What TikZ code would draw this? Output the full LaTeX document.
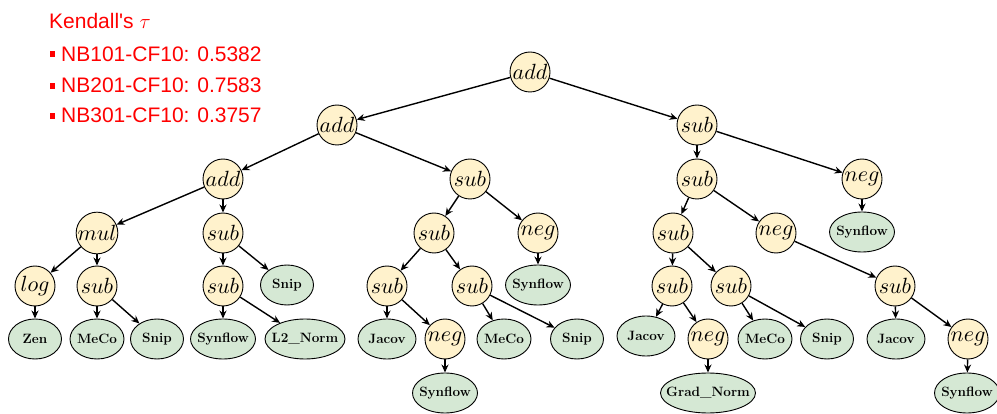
\documentclass[tikz,border=0pt]{standalone}
\usepackage{graphicx}
\usepackage{fontspec}
\newfontfamily\arialfont{Liberation Sans}
\usetikzlibrary{shapes.geometric,arrows.meta}
\definecolor{opfill}{HTML}{FFF2CC}
\definecolor{leaffill}{HTML}{D5E8D4}
\newcommand{\lt}[1]{\makebox[0pt][c]{#1}}
\newcommand{\opt}[1]{\scalebox{2.2}{$#1$}}
\begin{document}
\begin{tikzpicture}[x=1pt,y=-1pt,
 op/.style={circle,draw=black,fill=opfill,line width=0.9pt,minimum size=40pt,inner sep=0pt},
 leaf/.style={ellipse,draw=black,fill=leaffill,line width=0.9pt,minimum width=53pt,minimum height=40pt,inner sep=0pt,font=\fontsize{13.5}{16}\selectfont\bfseries},
 arr/.style={-{Stealth[length=8pt,width=7pt]},line width=1.4pt},
 ktext/.style={font=\arialfont\fontsize{21}{25}\selectfont,text=red,anchor=base west,inner sep=0pt},
 kbullet/.style={fill=red,draw=none}]
\useasboundingbox (0,0) rectangle (997,414);

% legend
\node[ktext] (kt) at (49,29) {Kendall's $\tau$};
\fill[kbullet] (50,51) rectangle (55,57);
\node[ktext] (k1) at (61,62) {NB101-CF10: 0.5382};
\fill[kbullet] (50,83) rectangle (55,89);
\node[ktext] (k2) at (61,93) {NB201-CF10: 0.7583};
\fill[kbullet] (50,113) rectangle (55,119);
\node[ktext] (k3) at (61,123) {NB301-CF10: 0.3757};

% operator nodes
\node[op] (n0) at (530,72) {\opt{add}};
\node[op] (n1) at (337,125) {\opt{add}};
\node[op] (n2) at (697,125) {\opt{sub}};
\node[op] (n3) at (223,179) {\opt{add}};
\node[op] (n4) at (470,179) {\opt{sub}};
\node[op] (n5) at (697,179) {\opt{sub}};
\node[op] (n6) at (862,179) {\opt{neg}};
\node[op] (n7) at (97,233) {\opt{mul}};
\node[op] (n8) at (223,233) {\opt{sub}};
\node[op] (n9) at (434,233) {\opt{sub}};
\node[op] (n10) at (538,233) {\opt{neg}};
\node[op] (n11) at (673,233) {\opt{sub}};
\node[op] (n12) at (776,233) {\opt{neg}};
\node[op] (n13) at (35,286) {\opt{log}};
\node[op] (n14) at (97,286) {\opt{sub}};
\node[op] (n15) at (223,286) {\opt{sub}};
\node[op] (n16) at (387,286) {\opt{sub}};
\node[op] (n17) at (472,286) {\opt{sub}};
\node[op] (n18) at (672,286) {\opt{sub}};
\node[op] (n19) at (731,286) {\opt{sub}};
\node[op] (n20) at (895,286) {\opt{sub}};
\node[op] (n21) at (445,339) {\opt{neg}};
\node[op] (n22) at (708,339) {\opt{neg}};
\node[op] (n23) at (968,339) {\opt{neg}};

% leaves
\node[leaf,minimum width=65pt] (l1) at (862,232) {\lt{Synflow}};
\node[leaf] (l2) at (287,285) {\lt{Snip}};
\node[leaf,minimum width=65pt] (l3) at (538,285) {\lt{Synflow}};
\node[leaf] (l4) at (35,339) {\lt{Zen}};
\node[leaf,minimum width=54pt] (l5) at (97,339) {\lt{MeCo}};
\node[leaf] (l6) at (157,339) {\lt{Snip}};
\node[leaf,minimum width=65pt] (l7) at (223,339) {\lt{Synflow}};
\node[leaf,minimum width=80pt] (l8) at (305,339) {\lt{L2\_Norm}};
\node[leaf,minimum width=58pt] (l9) at (387,339) {\lt{Jacov}};
\node[leaf,minimum width=54pt] (l10) at (504,339) {\lt{MeCo}};
\node[leaf] (l11) at (577,339) {\lt{Snip}};
\node[leaf,minimum width=58pt] (l12) at (646,336) {\lt{Jacov}};
\node[leaf,minimum width=54pt] (l13) at (765,339) {\lt{MeCo}};
\node[leaf] (l14) at (827,339) {\lt{Snip}};
\node[leaf,minimum width=58pt] (l15) at (896,339) {\lt{Jacov}};
\node[leaf,minimum width=65pt] (l16) at (445,393) {\lt{Synflow}};
\node[leaf,minimum width=95pt] (l17) at (708,393) {\lt{Grad\_Norm}};
\node[leaf,minimum width=65pt] (l18) at (967,393) {\lt{Synflow}};

% edges
\draw[arr] (n0) -- (n1);
\draw[arr] (n0) -- (n2);
\draw[arr] (n1) -- (n3);
\draw[arr] (n1) -- (n4);
\draw[arr] (n2) -- (n5);
\draw[arr] (n2) -- (n6);
\draw[arr] (n3) -- (n7);
\draw[arr] (n3) -- (n8);
\draw[arr] (n4) -- (n9);
\draw[arr] (n4) -- (n10);
\draw[arr] (n5) -- (n11);
\draw[arr] (n5) -- (n12);
\draw[arr] (n6) -- (l1);
\draw[arr] (n7) -- (n13);
\draw[arr] (n7) -- (n14);
\draw[arr] (n8) -- (n15);
\draw[arr] (n8) -- (l2);
\draw[arr] (n9) -- (n16);
\draw[arr] (n9) -- (n17);
\draw[arr] (n10) -- (l3);
\draw[arr] (n11) -- (n18);
\draw[arr] (n11) -- (n19);
\draw[arr] (n12) -- (n20);
\draw[arr] (n13) -- (l4);
\draw[arr] (n14) -- (l5);
\draw[arr] (n14) -- (l6);
\draw[arr] (n15) -- (l7);
\draw[arr] (n15) -- (l8);
\draw[arr] (n16) -- (l9);
\draw[arr] (n16) -- (n21);
\draw[arr] (n17) -- (l10);
\draw[arr] (n17) -- (l11);
\draw[arr] (n18) -- (l12);
\draw[arr] (n18) -- (n22);
\draw[arr] (n19) -- (l13);
\draw[arr] (n19) -- (l14);
\draw[arr] (n20) -- (l15);
\draw[arr] (n20) -- (n23);
\draw[arr] (n21) -- (l16);
\draw[arr] (n22) -- (l17);
\draw[arr] (n23) -- (l18);
\end{tikzpicture}
\end{document}
